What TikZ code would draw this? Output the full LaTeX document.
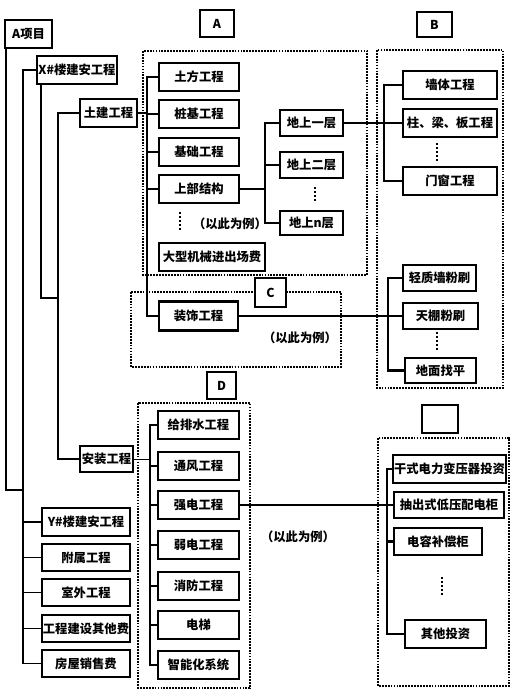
\documentclass[tikz,border=0pt]{standalone}
\usepackage{fontspec}
\usepackage{tikz}
\newfontfamily\cjk{Noto Sans CJK SC}

\tikzset{
  box/.style={draw, line width=1.8pt, inner sep=1pt, minimum height=0.82cm,
    font=\cjk\bfseries\fontsize{10.5}{12}\selectfont},
  tag/.style={draw, fill=white, line width=1.6pt, inner sep=1pt,
    font=\cjk\bfseries\fontsize{10.5}{12}\selectfont},
  note/.style={font=\cjk\bfseries\fontsize{10.5}{12}\selectfont},
  region/.style={draw, line width=1.2pt, dash pattern=on 1.5pt off 1pt},
  link/.style={line width=1.3pt},
  bus/.style={line width=2pt},
  more/.style={line width=1.8pt, dash pattern=on 1.5pt off 2pt}
}

\begin{document}
\begin{tikzpicture}[x=0.03cm, y=-0.03cm]
  \useasboundingbox (0,0) rectangle (516,694);

  % dotted groups
  \draw [region] (143,51) rectangle (367,275);
  \draw [region] (377,50) rectangle (503,388);
  \draw [region] (131,292) rectangle (341,367);
  \draw [region] (138,403) rectangle (250,688);
  \draw [region] (378,438) rectangle (509,686);

  % left column
  \node (proj) at (28.5,34) [box, minimum width=1.41cm] {A项目} ;
  \node (xbld) at (77,70) [box, minimum width=2.4cm] {X\#楼建安工程} ;
  \node (tj) at (108.5,113) [box, minimum width=1.71cm] {土建工程} ;
  \node (az) at (106.5,459) [box, minimum width=1.59cm, minimum height=0.78cm] {安装工程} ;
  \node (ybld) at (86,522) [box, minimum width=2.64cm] {Y\#楼建安工程} ;
  \node (fushu) at (86,557.5) [box, minimum width=2.64cm] {附属工程} ;
  \node (shiwai) at (86,592.5) [box, minimum width=2.64cm] {室外工程} ;
  \node (qtfee) at (86,628.5) [box, minimum width=2.64cm] {工程建设其他费} ;
  \node (sales) at (86,663.5) [box, minimum width=2.64cm] {房屋销售费} ;

  % group A
  \node (tagA) at (217,23.5) [tag, minimum width=1.02cm, minimum height=0.81cm] {A} ;
  \node (tufang) at (199,77) [box, minimum width=2.4cm] {土方工程} ;
  \node (zhuangji) at (199,114) [box, minimum width=2.4cm] {桩基工程} ;
  \node (jichu) at (199,152) [box, minimum width=2.4cm] {基础工程} ;
  \node (shangbu) at (199,189) [box, minimum width=2.4cm] {上部结构} ;
  \node (jixie) at (212,257) [box, minimum width=3.18cm] {大型机械进出场费} ;
  \node (noteA) at (230,224) [note] {（以此为例）} ;
  \node (ds1) at (311.5,123) [box, minimum width=1.89cm, minimum height=0.78cm] {地上一层} ;
  \node (ds2) at (311.5,165) [box, minimum width=1.89cm, minimum height=0.78cm] {地上二层} ;
  \node (dsn) at (311.5,223) [box, minimum width=1.89cm, minimum height=0.74cm] {地上n层} ;

  % group B
  \node (tagB) at (434.5,24.5) [tag, minimum width=1.05cm, minimum height=0.75cm] {B} ;
  \node (qiangti) at (450,85) [box, minimum width=2.82cm] {墙体工程} ;
  \node (zhuliang) at (450,123) [box, minimum width=2.82cm] {柱、梁、板工程} ;
  \node (menchuang) at (450,181) [box, minimum width=2.82cm] {门窗工程} ;
  \node (qingzhi) at (439.5,278) [box, minimum width=2.19cm, minimum height=0.78cm] {轻质墙粉刷} ;
  \node (tianpeng) at (440.5,316) [box, minimum width=2.25cm, minimum height=0.76cm] {天棚粉刷} ;
  \node (dimian) at (440.5,370.5) [box, minimum width=2.13cm, minimum height=0.76cm] {地面找平} ;

  % group C
  \node (tagC) at (270.5,292.5) [tag, minimum width=0.93cm, minimum height=0.87cm] {C} ;
  \node (zhuangshi) at (198.5,316) [box, minimum width=2.37cm, minimum height=0.87cm] {装饰工程} ;
  \node (noteC) at (300,338) [note] {（以此为例）} ;

  % group D
  \node (tagD) at (221.5,385.5) [tag, minimum width=0.87cm, minimum height=0.81cm] {D} ;
  \node (gps) at (198.5,425) [box, minimum width=2.43cm] {给排水工程} ;
  \node (tongfeng) at (198.5,466) [box, minimum width=2.43cm] {通风工程} ;
  \node (qiangdian) at (198.5,505) [box, minimum width=2.43cm] {强电工程} ;
  \node (ruodian) at (198.5,545) [box, minimum width=2.43cm] {弱电工程} ;
  \node (xiaofang) at (198.5,586) [box, minimum width=2.43cm] {消防工程} ;
  \node (dianti) at (198.5,625) [box, minimum width=2.43cm] {电梯} ;
  \node (zhineng) at (198.5,665) [box, minimum width=2.43cm] {智能化系统} ;
  \node (noteD) at (298,537) [note] {（以此为例）} ;

  % group E
  \node (tagE) at (440,419) [tag, minimum width=1.08cm, minimum height=0.84cm] {} ;
  \node (ganshi) at (449.5,469) [box, minimum width=3.33cm] {干式电力变压器投资} ;
  \node (chouchu) at (449,505) [box, minimum width=3.3cm, minimum height=0.78cm] {抽出式低压配电柜} ;
  \node (dianrong) at (438,541.5) [box, minimum width=2.64cm] {电容补偿柜} ;
  \node (qita) at (445.5,634) [box, minimum width=2.43cm] {其他投资} ;

  % bus positions
  \coordinate (mb) at (23,0) ;
  \coordinate (pj) at (23,490) ;
  \coordinate (xj) at (58,298) ;
  \coordinate (ab) at (147,0) ;
  \coordinate (sb) at (265,0) ;
  \coordinate (b1) at (384,0) ;
  \coordinate (b2) at (388,0) ;
  \coordinate (db) at (150,0) ;
  \coordinate (eb) at (387,0) ;

  % left tree
  \draw [link] ([xshift=0.06cm]proj.south west) |- (pj);
  \draw [link] (xbld.west) -| (mb |- sales.west) -- (sales.west);
  \draw [link] (ybld.west) -- (ybld.west -| mb);
  \draw [link] (fushu.west) -- (fushu.west -| mb);
  \draw [link] (shiwai.west) -- (shiwai.west -| mb);
  \draw [link] (qtfee.west) -- (qtfee.west -| mb);
  \draw [link] ([xshift=0.15cm]xbld.south west) |- (xj);
  \draw [link] (tj.west) -| (xj |- az.west) -- (az.west);

  % A links
  \draw [bus] (tj.east) -- (tj.east -| ab);
  \draw [bus] (tufang.west) -| (ab |- zhuangshi.west) -- (zhuangshi.west);
  \draw [bus] (zhuangji.west) -- (zhuangji.west -| ab);
  \draw [bus] (jichu.west) -- (jichu.west -| ab);
  \draw [bus] (shangbu.west) -- (shangbu.west -| ab);
  \draw [bus] (shangbu.east) -- (shangbu.east -| sb);
  \draw [bus] (ds1.west) -| (sb |- dsn.west) -- (dsn.west);
  \draw [bus] (ds2.west) -- (ds2.west -| sb);
  \draw [more] (180,212) -- (180,230);
  \draw [more] (315,187) -- (315,202);

  % B links
  \draw [bus] (ds1.east) -- (zhuliang.west);
  \draw [bus] (qiangti.west) -| (b1 |- menchuang.west) -- (menchuang.west);
  \draw [bus] (zhuangshi.east) -- (tianpeng.west);
  \draw [bus] (qingzhi.west) -| (b2 |- dimian.west) -- (dimian.west);
  \draw [more] (437,143) -- (437,163);
  \draw [more] (437,332) -- (437,350);

  % D links
  \draw [thin] (az.east) -- (az.east -| db);
  \draw [bus] (gps.west) -| (db |- zhineng.west) -- (zhineng.west);
  \draw [bus] (tongfeng.west) -- (tongfeng.west -| db);
  \draw [bus] (qiangdian.west) -- (qiangdian.west -| db);
  \draw [bus] (ruodian.west) -- (ruodian.west -| db);
  \draw [bus] (xiaofang.west) -- (xiaofang.west -| db);
  \draw [bus] (dianti.west) -- (dianti.west -| db);

  % E links
  \draw [link] (qiangdian.east) -- (chouchu.west);
  \draw [bus] (ganshi.west) -| (eb |- qita.west) -- (qita.west);
  \draw [bus] (dianrong.west) -- (dianrong.west -| eb);
  \draw [more] (442,577) -- (442,597);
\end{tikzpicture}
\end{document}
